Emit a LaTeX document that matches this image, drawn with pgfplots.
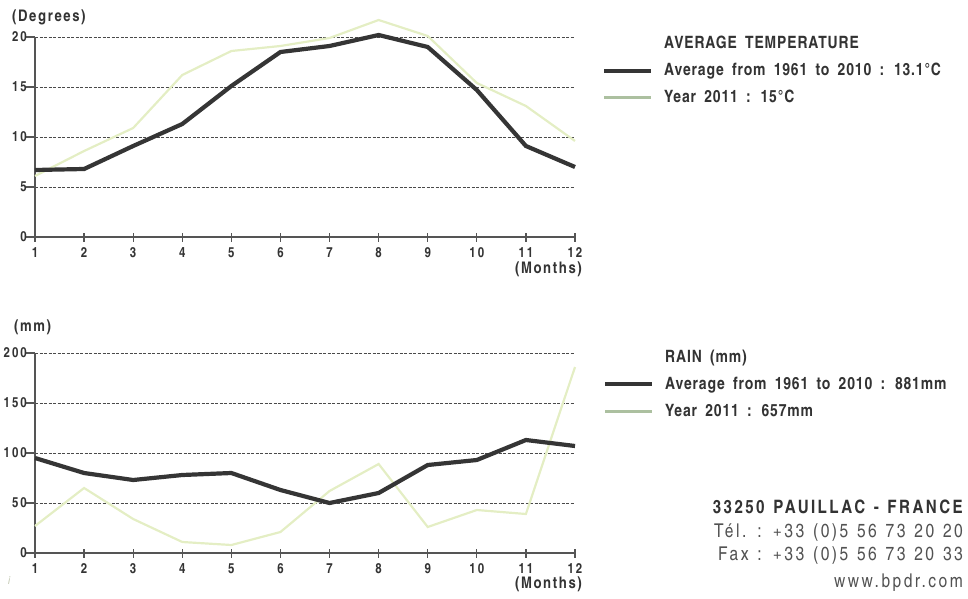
\documentclass[border=0pt]{standalone}
\usepackage{fontspec}
\setmainfont{texgyreheroscn}[Extension=.otf, UprightFont=*-regular, BoldFont=*-bold, ItalicFont=*-italic, BoldItalicFont=*-bolditalic]
\newfontfamily\tickfam{texgyreheroscn}[Extension=.otf, UprightFont=*-bold, LetterSpace=14]
\newfontfamily\legfam{texgyreheroscn}[Extension=.otf, UprightFont=*-bold, LetterSpace=5, WordSpace=1.75]
\newfontfamily\capfam{texgyreheroscn}[Extension=.otf, UprightFont=*-bold, LetterSpace=10]
\newfontfamily\addrfam{texgyreheroscn}[Extension=.otf, UprightFont=*-regular, BoldFont=*-bold, LetterSpace=13, WordSpace=1.3]
\usepackage{pgfplots}
\pgfplotsset{compat=1.18}

\definecolor{darkline}{HTML}{353535}
\definecolor{lightline}{RGB}{228,238,196}
\definecolor{keygreen}{RGB}{172,192,160}
\definecolor{gridcol}{HTML}{4A4A4A}
\definecolor{txt}{HTML}{333333}
\definecolor{axcol}{HTML}{555555}

\newcommand{\tickfont}{\tickfam\fontsize{14}{16}\selectfont}
\newcommand{\capfont}{\capfam\fontsize{16}{18}\selectfont}
\newcommand{\legfont}{\legfam\fontsize{17}{19}\selectfont}
\newcommand{\addrfont}{\addrfam\fontsize{19}{22}\selectfont}

\pgfplotsset{chart/.style={
  scale only axis, width=540pt, height=200pt,
  xmin=1, xmax=12, ymin=0, clip=false,
  axis x line=bottom, axis y line=left,
  axis line style={-, draw=axcol, line width=1.3pt},
  xtick={1,...,12},
  major tick length=9pt,
  xtick align=center, ytick align=outside,
  tick style={draw=axcol, line width=1.3pt},
  ymajorgrids, grid style={draw=gridcol, line width=0.9pt, dash pattern=on 3pt off 1.5pt},
  ticklabel style={font=\tickfont, text=txt},
  /pgf/number format/assume math mode=true,
  xticklabel style={yshift=-6pt},
  yticklabel style={xshift=1pt},
}}

\begin{document}
\begin{tikzpicture}[x=1pt,y=1pt, every node/.style={inner sep=0pt}]
\path[use as bounding box] (0,0) rectangle (968,598);

% temperature
\begin{axis}[chart, at={(35pt,361pt)}, anchor=south west, ymax=20, ytick={0,5,...,20}]
\addplot[draw=lightline, line width=2.2pt] coordinates {
(1,6.1)(2,8.6)(3,10.9)(4,16.2)(5,18.6)(6,19.1)(7,19.9)(8,21.7)(9,20.1)(10,15.4)(11,13.1)(12,9.6)};
\addplot[draw=darkline, line width=4.2pt] coordinates {
(1,6.7)(2,6.8)(3,9.1)(4,11.3)(5,15.1)(6,18.5)(7,19.1)(8,20.2)(9,19.0)(10,14.7)(11,9.1)(12,7.0)};
\end{axis}

% rain
\begin{axis}[chart, at={(35pt,45pt)}, anchor=south west, ymax=200, ytick={0,50,...,200}]
\addplot[draw=lightline, line width=2.2pt] coordinates {
(1,27)(2,65)(3,34)(4,11)(5,8)(6,21)(7,62)(8,89)(9,26)(10,43)(11,39)(12,186)};
\addplot[draw=darkline, line width=4.2pt] coordinates {
(1,95)(2,80)(3,73)(4,78)(5,80)(6,63)(7,50)(8,60)(9,88)(10,93)(11,113)(12,107)};
\end{axis}

% axis captions
\node[anchor=base west, font=\capfont, text=txt] at (12,576) {(Degrees)};
\node[anchor=base east, font=\capfont, text=txt] at (582,325) {(Months)};
\node[anchor=base west, font=\capfont, text=txt] at (14,267) {(mm)};
\node[anchor=base east, font=\capfont, text=txt] at (582,10) {(Months)};
\node[anchor=base west, font=\itshape\fontsize{11}{12}\selectfont, text=lightline!60!gray] at (8,14) {i};

% temperature legend
\node[anchor=base west, font=\legfont, text=txt] at (664,549) {AVERAGE TEMPERATURE};
\draw[darkline, line width=4pt] (604,527) -- (651,527);
\node[anchor=base west, font=\legfont, text=txt] at (664,522) {Average from 1961 to 2010 : 13.1°C};
\draw[keygreen, line width=3pt] (604,500) -- (651,500);
\node[anchor=base west, font=\legfont, text=txt] at (664,495) {Year 2011 : 15°C};

% rain legend
\node[anchor=base west, font=\legfont, text=txt] at (665,236) {RAIN (mm)};
\draw[darkline, line width=4pt] (605,214) -- (652,214);
\node[anchor=base west, font=\legfont, text=txt] at (665,209) {Average from 1961 to 2010 : 881mm};
\draw[keygreen, line width=3pt] (605,187) -- (652,187);
\node[anchor=base west, font=\legfont, text=txt] at (665,182) {Year 2011 : 657mm};

% address
\node[anchor=base east, font=\addrfam\bfseries\fontsize{18.5}{22}\selectfont, text=txt] at (963,85) {33250 PAUILLAC - FRANCE};
\node[anchor=base east, font=\addrfont, text=txt!85] at (963,61) {Tél. : +33 (0)5 56 73 20 20};
\node[anchor=base east, font=\addrfont, text=txt!85] at (963,38) {Fax : +33 (0)5 56 73 20 33};
\node[anchor=base east, font=\addrfont, text=txt!85] at (963,11) {www.bpdr.com};
\end{tikzpicture}
\end{document}
